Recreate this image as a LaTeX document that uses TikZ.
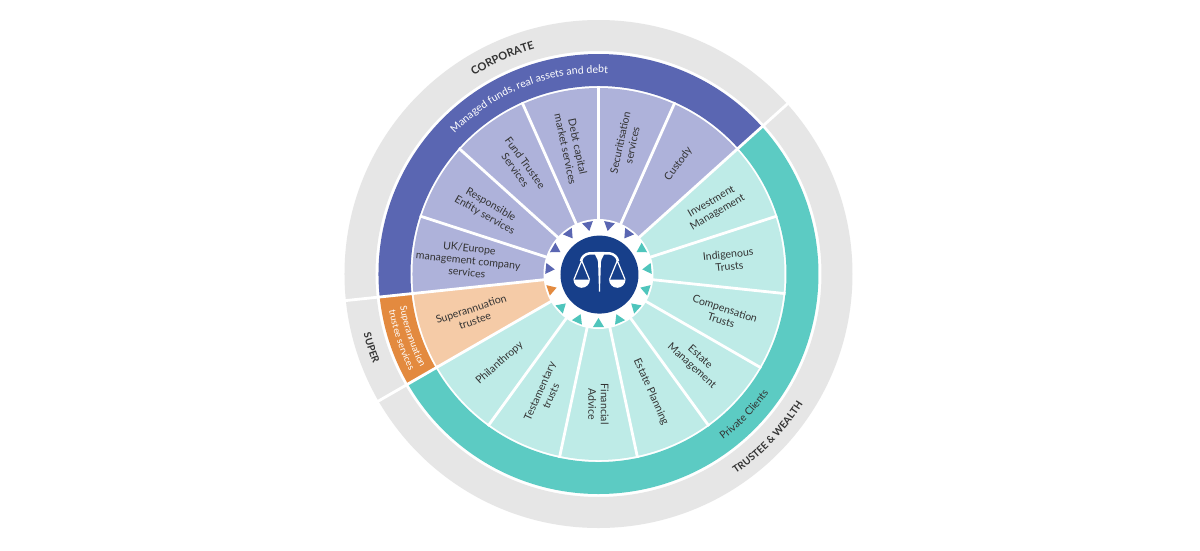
\documentclass[tikz,border=0pt]{standalone}
\usepackage{fontspec}
\setmainfont{Lato}
\usetikzlibrary{decorations.text}
\definecolor{grayring}{HTML}{E6E6E6}
\definecolor{purpband}{HTML}{5A66B2}
\definecolor{purpwedge}{HTML}{AEB2DA}
\definecolor{purptri}{HTML}{5A66B2}
\definecolor{tealband}{HTML}{5CCBC3}
\definecolor{tealwedge}{HTML}{BEEBE7}
\definecolor{tealtri}{HTML}{4FC5BC}
\definecolor{orgband}{HTML}{E38A3F}
\definecolor{orgwedge}{HTML}{F5CBA7}
\definecolor{navy}{HTML}{173F8A}
\definecolor{txt}{HTML}{333333}
\newcommand\annsec[5]{\fill[#1] (#2:#4) arc[start angle=#2, end angle=#3, radius=#4] -- (#3:#5) arc[start angle=#3, end angle=#2, radius=#5] -- cycle;}
\tikzset{
  wlabel/.style={font=\fontsize{10.6}{12.3}\selectfont, text=txt, align=center, inner sep=0pt},
  sepline/.style={white, line width=2.8pt},
}
\begin{document}
\begin{tikzpicture}
\useasboundingbox[fill=white] (-598.5pt,-276pt) rectangle (601.5pt,274pt);
% outer gray ring
\fill[grayring, even odd rule] (0,0) circle[radius=254pt] (0,0) circle[radius=223pt];
% bands
\annsec{purpband}{42}{186}{188pt}{220pt}
\annsec{orgband}{186}{210}{188pt}{220pt}
\annsec{tealband}{210}{402}{188pt}{220pt}
% wedges
\annsec{purpwedge}{42}{186}{50pt}{186pt}
\annsec{orgwedge}{186}{210}{50pt}{186pt}
\annsec{tealwedge}{210}{402}{50pt}{186pt}
% wedge dividers
\foreach \a in {18,42,...,354} \draw[sepline] (\a:50pt) -- (\a:188pt);
\foreach \a in {42,186,210} \draw[sepline] (\a:185pt) -- (\a:257pt);
% white inner ring
\fill[white] (0,0) circle[radius=55pt];
% triangles
\foreach \a/\c in {54/purptri,78/purptri,102/purptri,126/purptri,150/purptri,174/purptri,198/orgband,222/tealtri,246/tealtri,270/tealtri,294/tealtri,318/tealtri,342/tealtri,6/tealtri,30/tealtri}
  \fill[\c, rotate=\a] (44pt,0pt) -- (53pt,5.5pt) -- (53pt,-5.5pt) -- cycle;
% navy disc and scales icon
\begin{scope}[shift={(1pt,-0.6pt)}]
  \fill[navy] (0,0) circle[radius=39pt];
  \begin{scope}[white]
    \fill (-5pt,22.8pt) -- (5pt,22.8pt) to[out=-90,in=90] (1.4pt,12pt) -- (0.5pt,-17pt) -- (-0.5pt,-17pt) -- (-1.4pt,12pt) to[out=90,in=-90] (-5pt,22.8pt) -- cycle;
    \draw[line width=2.5pt] (-18.5pt,13.5pt) to[out=80,in=190] (-10pt,21.3pt) -- (10pt,21.3pt) to[out=-10,in=100] (18.5pt,13.5pt);
    \draw[line width=1.2pt, line join=round] (-10pt,-5pt) -- (-17.8pt,14pt) -- (-25.6pt,-5pt);
    \draw[line width=1.2pt, line join=round] (10pt,-5pt) -- (17.8pt,14pt) -- (25.6pt,-5pt);
    \fill (-26pt,-5pt) arc[start angle=180, end angle=360, radius=8.2pt] -- cycle;
    \fill (9.6pt,-5pt) arc[start angle=180, end angle=360, radius=8.2pt] -- cycle;
  \end{scope}
\end{scope}
% wedge labels
\node[wlabel, rotate=-6]  (l174) at (174:131pt) {UK/Europe\\management company\\services};
\node[wlabel, rotate=-30] (l150) at (150:128pt) {Responsible\\Entity services};
\node[wlabel, rotate=-54] (l126) at (126:133pt) {Fund Trustee\\Services};
\node[wlabel, rotate=-78] (l102) at (102:129pt) {Debt capital\\market services};
\node[wlabel, rotate=78]  (l78)  at (78:133pt)  {Securitisation\\services};
\node[wlabel, rotate=54]  (l54)  at (54:136pt)  {Custody};
\node[wlabel, rotate=30]  (l30)  at (30:134pt)  {Investment\\Management};
\node[wlabel, rotate=6]   (l6)   at (6:131pt)   {Indigenous\\Trusts};
\node[wlabel, rotate=-18] (l342) at (-18:131pt) {Compensation\\Trusts};
\node[wlabel, rotate=-42] (l318) at (-42:131pt) {Estate\\Management};
\node[wlabel, rotate=-66] (l294) at (-66:129pt) {Estate Planning};
\node[wlabel, rotate=-90] (l270) at (-90:130pt) {Financial\\Advice};
\node[wlabel, rotate=66]  (l246) at (246:131pt) {Testamentary\\trusts};
\node[wlabel, rotate=42]  (l222) at (222:133pt) {Philanthropy};
\node[wlabel, rotate=18]  (l198) at (198:132pt) {Superannuation\\trustee};
% curved band labels
\path[decorate, decoration={text along path, text align=center,
  text={|\fontsize{10.6}{12}\selectfont\color{white}|Managed funds, real assets and debt}}]
  (150:201pt) arc[start angle=150, end angle=73, radius=201pt];
\path[decorate, decoration={text along path, text align=center,
  text={|\fontsize{10.3}{12}\selectfont\color{txt}|Private Clients}}]
  (-75:207.5pt) arc[start angle=-75, end angle=-13, radius=207.5pt];
\path[decorate, decoration={text along path, text align=center,
  text={|\fontsize{9.3}{10}\selectfont\color{white}|Superannuation}}]
  (183:201pt) arc[start angle=183, end angle=214, radius=201pt];
\path[decorate, decoration={text along path, text align=center,
  text={|\fontsize{9.3}{10}\selectfont\color{white}|trustee services}}]
  (183:212.5pt) arc[start angle=183, end angle=214, radius=212.5pt];
% outer ring labels
\path[decorate, decoration={text along path, text align=center,
  text={|\fontsize{11}{12}\selectfont\bfseries\color{txt}|CORPORATE}}]
  (140:234pt) arc[start angle=140, end angle=88, radius=234pt];
\path[decorate, decoration={text along path, text align=center,
  text={|\fontsize{10}{12}\selectfont\bfseries\color{txt}|SUPER}}]
  (186:242.5pt) arc[start angle=186, end angle=210, radius=242.5pt];
\path[decorate, decoration={text along path, text align=center,
  text={|\fontsize{10}{12}\selectfont\bfseries\color{txt}|TRUSTEE {\&} WEALTH}}]
  (-75:242.5pt) arc[start angle=-75, end angle=-13, radius=242.5pt];
\end{tikzpicture}
\end{document}
